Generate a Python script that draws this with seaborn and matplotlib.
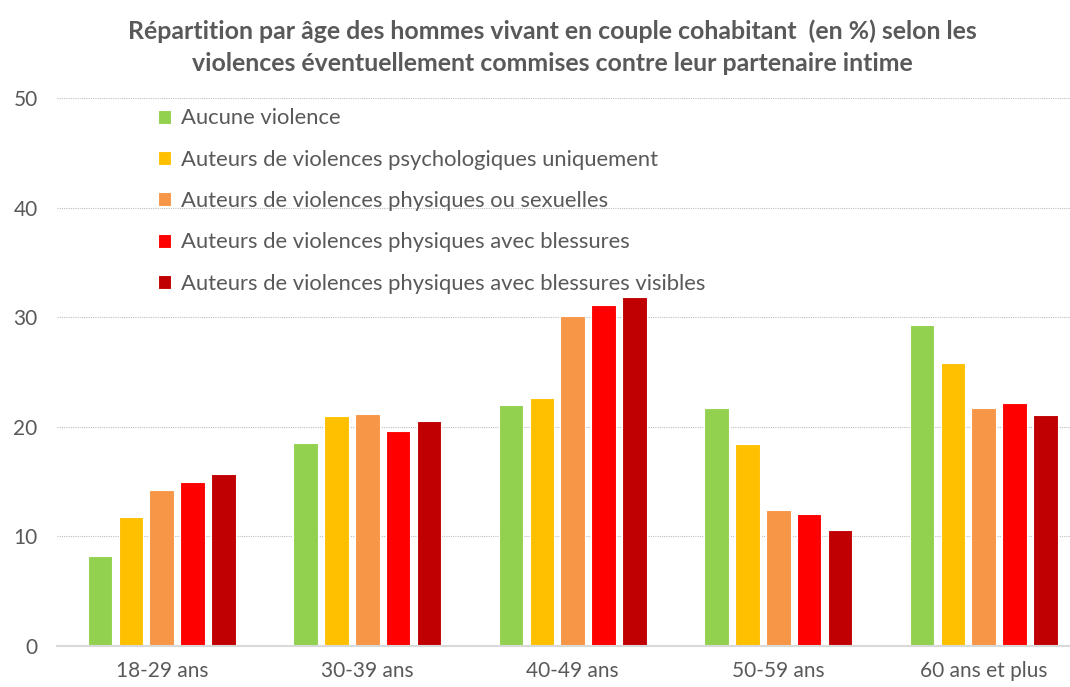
import matplotlib
matplotlib.use("Agg")
import matplotlib.pyplot as plt
import seaborn as sns
import pandas as pd

categories = ["18-29 ans", "30-39 ans", "40-49 ans", "50-59 ans", "60 ans et plus"]
series = [
    "Aucune violence",
    "Auteurs de violences psychologiques uniquement",
    "Auteurs de violences physiques ou sexuelles",
    "Auteurs de violences physiques avec blessures",
    "Auteurs de violences physiques avec blessures visibles",
]
aucune = [8.2, 18.5, 22.0, 21.7, 29.3]
psycho = [11.8, 21.0, 22.6, 18.4, 25.8]
phys_sex = [14.2, 21.2, 30.1, 12.4, 21.7]
blessures = [15.0, 19.6, 31.1, 12.0, 22.2]
visibles = [15.7, 20.5, 31.8, 10.6, 21.1]
colors = ["#92D050", "#FFC000", "#F79646", "#FF0000", "#C00000"]

values = [aucune, psycho, phys_sex, blessures, visibles]
rows = []
for s, vals in zip(series, values):
    for c, v in zip(categories, vals):
        rows.append({"cat": c, "serie": s, "val": v})
df = pd.DataFrame(rows)

sns.set_theme(style="white")
plt.rcParams["font.family"] = ["Lato", "DejaVu Sans"]

fig = plt.figure(figsize=(10.7, 6.87), dpi=100)
ax = fig.add_axes([57 / 1070, 1 - 646 / 687, 1 - 57 / 1070, (646 - 98) / 687])

sns.barplot(data=df, x="cat", y="val", hue="serie", hue_order=series,
            order=categories, palette=colors, width=0.75, gap=0.2,
            edgecolor="white", linewidth=0.8, ax=ax, saturation=1)

ax.set_ylim(0, 50)
ax.set_xlim(-0.51, 4.42)
ax.set_yticks([0, 10, 20, 30, 40, 50])
ax.yaxis.grid(True, linestyle=(0, (1, 1)), color="#BFBFBF", linewidth=0.8)
ax.set_axisbelow(True)
for sp in ["top", "right", "left"]:
    ax.spines[sp].set_visible(False)
ax.spines["bottom"].set_color("#D9D9D9")
ax.spines["bottom"].set_linewidth(1.5)
ax.set_xlabel("")
ax.set_ylabel("")
ax.tick_params(axis="y", length=0, pad=14, labelsize=15, labelcolor="#595959")
ax.tick_params(axis="x", length=0, pad=11, labelsize=15, labelcolor="#595959")

leg = ax.legend(loc="upper left", bbox_to_anchor=(0.091, 0.997), frameon=False,
                fontsize=15.8, labelcolor="#595959", handlelength=0.6,
                handleheight=0.6, handletextpad=0.45, labelspacing=0.97,
                borderaxespad=0)

fig.text(0.516, 0.955, "Répartition par âge des hommes vivant en couple cohabitant  (en %) selon les",
         ha="center", va="center", fontsize=17.9, fontweight="bold", color="#595959")
fig.text(0.516, 0.907, "violences éventuellement commises contre leur partenaire intime",
         ha="center", va="center", fontsize=17.9, fontweight="bold", color="#595959")

fig.savefig("out.png", dpi=100)
